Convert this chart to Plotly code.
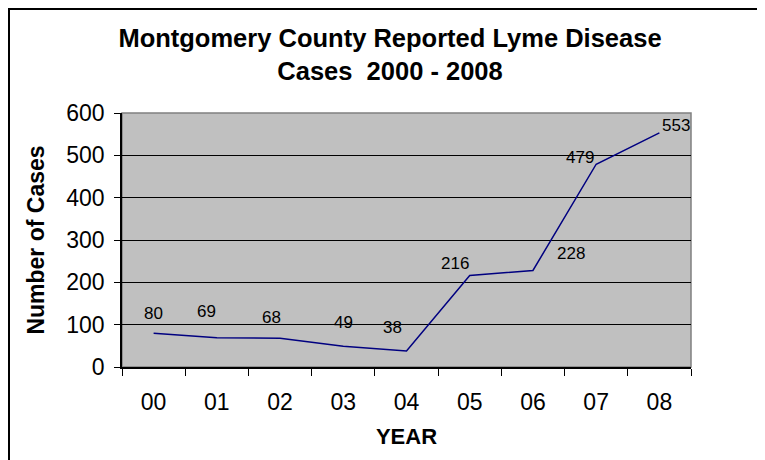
import plotly.graph_objects as go

years = ["00", "01", "02", "03", "04", "05", "06", "07", "08"]
cases = [80, 69, 68, 49, 38, 216, 228, 479, 553]
y_ticks = [0, 100, 200, 300, 400, 500, 600]

# label offsets in pixels (dx, dy) relative to each point
label_dx = [0, -10, -9, 0, -14, -15, 38, -16, 17]
label_dy = [20, 26, 21, 24, 23, 12, 17, 7, 7]

# page has an 8px body margin
W, H = 757, 452
L, R, T, B = 114, 74, 105, 93
pw, ph = W - L - R, H - T - B

font = "Liberation Sans, Arial"

fig = go.Figure()
fig.add_trace(go.Scatter(
    x=years, y=cases, mode="lines",
    line=dict(color="#000080", width=1.5),
    hoverinfo="x+y", showlegend=False,
))

for x, y, dx, dy in zip(years, cases, label_dx, label_dy):
    fig.add_annotation(x=x, y=y, text=str(y), showarrow=False,
                       xshift=dx, yshift=dy,
                       font=dict(family=font, size=17, color="#000"))

fig.update_layout(
    width=W, height=H,
    margin=dict(l=L, r=R, t=T, b=B, autoexpand=False),
    paper_bgcolor="white",
    plot_bgcolor="#c0c0c0",
    title=dict(
        text="<b>Montgomery County Reported Lyme Disease<br>Cases  2000 - 2008</b>",
        x=382 / W, xanchor="center", xref="container",
        y=1 - 39 / H, yanchor="middle", yref="container",
        font=dict(family=font, size=25.5, color="#000"),
    ),
    xaxis=dict(
        type="category", range=[-0.5, 8.5],
        tickmode="array", tickvals=years, ticktext=years,
        tickson="boundaries", ticks="outside", ticklen=7, tickcolor="#000",
        ticklabelstandoff=14,
        showline=True, linecolor="#000", linewidth=1.5,
        showgrid=False,
        tickfont=dict(family=font, size=23, color="#000"),
        title=dict(text="<b>YEAR</b>", font=dict(family=font, size=22, color="#000"), standoff=14),
        automargin=False,
        fixedrange=True,
    ),
    yaxis=dict(
        range=[0, 600], tickmode="array", tickvals=y_ticks,
        ticks="outside", ticklen=6, tickcolor="#000",
        ticklabelstandoff=5,
        showline=True, linecolor="#000", linewidth=1.5,
        showgrid=True, gridcolor="#000", gridwidth=1,
        tickfont=dict(family=font, size=23, color="#000"),
        title=dict(text="<b>Number of Cases</b>", font=dict(family=font, size=23, color="#000"), standoff=15),
        zeroline=False,
        automargin=False,
        fixedrange=True,
    ),
)

# plot area border (gray top/right)
fig.add_shape(type="rect", xref="paper", yref="paper", x0=0, x1=1, y0=0, y1=1,
              line=dict(color="#808080", width=1.5), layer="below")
# outer chart border
fig.add_shape(type="rect", xref="paper", yref="paper",
              x0=(1 - L) / pw, x1=(W + 20 - L) / pw,
              y0=-(B + 20) / ph, y1=1 + (T - 1) / ph,
              line=dict(color="#000", width=2))

fig.write_html("out.html")
